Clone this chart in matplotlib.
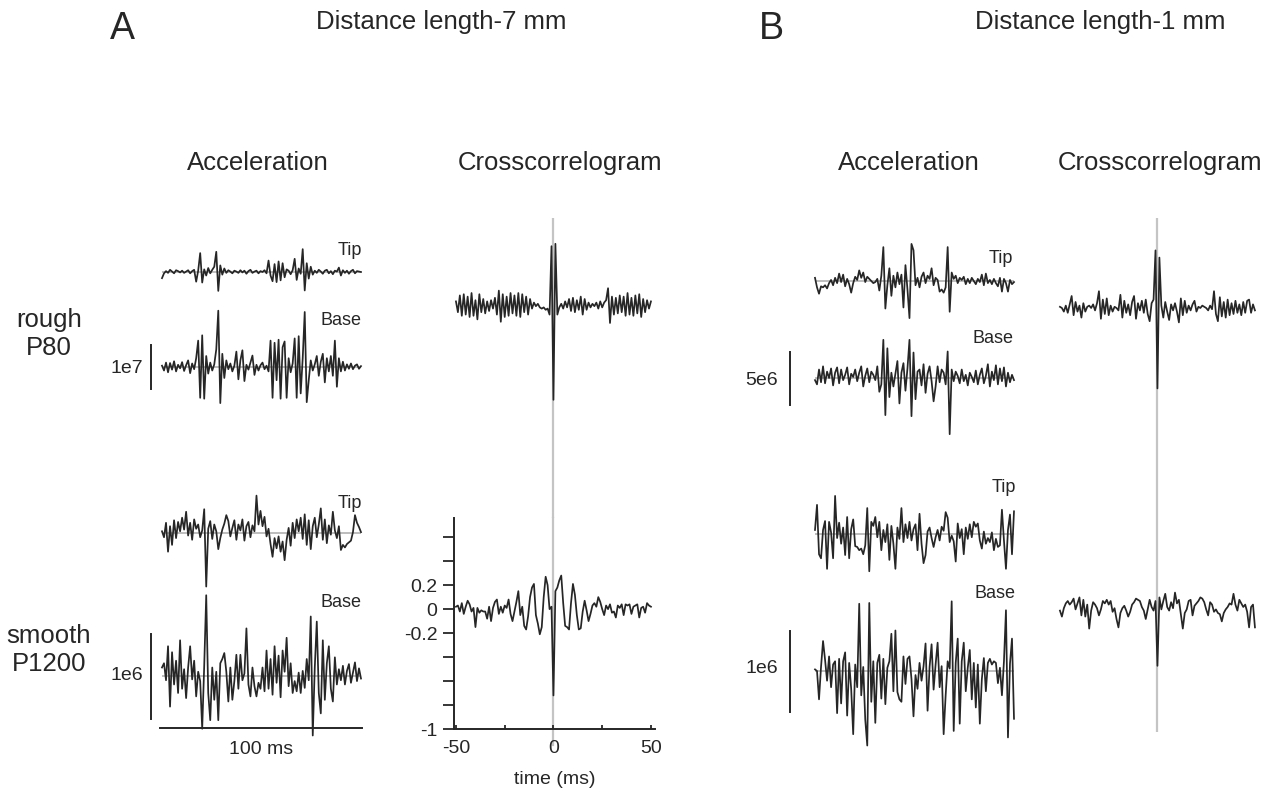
import numpy as np
import matplotlib
matplotlib.use("Agg")
import matplotlib.pyplot as plt

plt.rcParams['font.family'] = ['Liberation Sans', 'DejaVu Sans']

# ---------------------------------------------------------------- data
t_acc = np.arange(100)          # ms, 1 kHz samples, 100 ms window
lags = np.arange(-50, 51)       # ms

# Panel A (distance 7 mm) - acceleration, m/s^2
a_rough_tip = np.array([
    -1.4, -0.3, 0.2, -0.2, 0.5, 0.1, -0.3, 0.4, 0.2, -0.1,
    0.3, -0.2, 0.1, 0.4, -0.3, 0.2, 0.5, -2.2, 0.3, 4.3,
    -2.4, 0.6, -0.8, 0.9, -0.3, 0.5, 1.2, 4.6, -4.3, 1.5,
    -0.6, 0.8, -0.2, 0.4, 0.1, -0.3, 0.3, 0.1, -0.2, 0.4,
    -0.1, 0.3, -0.4, 0.2, 0.5, -0.2, 0.1, 0.3, -0.3, 0.2,
    0.0, 0.4, -0.3, 2.6, -0.8, -2.1, 1.8, -2.3, 2.4, -1.9,
    2.0, -1.2, 0.6, 0.3, -0.5, 0.4, 3.0, -1.8, 0.8, -0.4,
    5.2, -4.2, 2.0, -1.5, 1.2, -0.6, 0.3, -0.2, 0.5, 0.1,
    -0.4, 0.3, 0.5, -0.3, 0.2, -0.5, 0.3, 0.1, 1.0, -0.8,
    0.4, -0.2, 0.3, -0.4, 0.2, 0.5, -0.3, 0.2, 0.1, 0.0]) * 1e6

a_rough_base = np.array([
    0.3, -0.8, 1.0, -1.2, 0.9, -0.6, 1.3, -1.0, 0.5, -0.3,
    1.1, -0.9, 0.4, 1.5, -1.4, 0.8, -0.5, 2.0, 6.0, -7.0,
    7.2, -7.2, 2.5, -1.5, 1.0, -0.8, 0.6, 4.0, 12.8, -8.2,
    3.0, -2.5, 1.5, -0.5, 0.8, -1.0, 0.3, 3.5, -2.8, 1.5,
    3.8, -3.2, 0.5, -0.6, 1.0, 2.6, -1.8, 0.5, -0.8, 0.4,
    1.0, -0.5, 0.3, -1.0, 6.0, -7.0, 5.5, -3.0, 6.2, -7.2,
    4.5, 5.8, -7.0, 2.0, -1.2, 0.8, 6.5, -7.0, 7.0, -6.0,
    2.0, 12.5, -8.0, -3.0, 1.5, -0.8, 0.6, 2.5, -2.0, 1.2,
    3.0, -3.5, 2.0, -1.0, 2.5, -2.0, 6.0, -4.5, 2.0, -1.0,
    1.2, -0.8, 0.6, -0.4, 0.8, -0.5, 0.3, 0.6, -0.4, 0.2]) * 1e6

a_smooth_tip = np.array([
    0.2, -0.5, 1.2, -2.2, 0.8, -1.4, 1.5, -0.6, 1.3, 0.2,
    1.8, 0.4, 2.5, -0.3, 1.2, -0.8, 1.6, 0.5, 1.0, -0.5,
    0.3, 2.8, -6.3, 0.5, 1.4, -0.7, 1.0, 0.2, -1.9, -0.6,
    0.4, 1.1, 2.1, 1.4, -0.4, 0.6, 1.5, -0.8, 1.0, 0.3,
    1.6, -0.9, 0.8, 1.3, -0.5, 0.9, 0.2, 4.4, 1.0, 2.6,
    0.8, 1.9, -0.4, 0.5, -1.3, -2.8, -0.6, -1.8, -0.4, -2.2,
    -1.0, -3.2, -0.8, 0.6, -1.5, 1.2, -0.6, 1.6, 0.2, 1.8,
    -0.7, 2.2, -1.4, 1.5, -1.9, 0.8, 1.8, -0.5, 1.0, 2.9,
    -0.8, 1.6, -1.2, 0.9, -0.2, 2.5, 0.3, -0.6, 0.8, -2.0,
    -1.4, -1.7, -1.3, -1.1, -0.9, 0.1, 2.1, 1.2, 0.7, 0.1]) * 1e5

a_smooth_base = np.array([
    1.0, 1.5, -0.5, 3.5, -3.6, 2.8, -1.0, 1.8, -2.0, 4.2,
    -1.5, 0.8, -2.6, 1.0, 3.5, -0.4, 1.8, -2.4, 0.5, -0.6,
    -6.2, 1.2, 9.5, -2.0, -5.2, 1.0, -2.8, 0.5, -5.2, 1.5,
    2.0, 2.7, 0.5, -3.0, 1.0, -2.8, -0.6, 2.5, -1.5, 2.5,
    -0.5, 0.3, 5.6, -1.0, -2.4, 1.0, -1.2, -2.4, -0.8, -1.5,
    1.0, -1.8, 3.0, -1.5, 2.0, -2.2, 3.5, -0.8, 2.4, -2.5,
    3.0, 0.5, 4.5, -1.2, 1.5, -2.0, -0.6, -1.8, 0.4, -2.0,
    0.6, -1.4, 2.0, -0.5, 7.0, -7.0, 1.0, 6.4, -2.0, -4.4,
    4.2, -2.8, 1.5, 3.5, -1.5, -3.0, 2.2, -1.0, 0.8, -0.5,
    1.2, -1.0, 0.6, 1.4, -0.8, 0.4, 1.6, -0.6, 0.9, -0.3]) * 1e5

# Panel B (distance 1 mm) - acceleration, m/s^2
b_rough_tip = np.array([
    0.3, -0.6, -1.2, -0.5, -0.6, -0.4, -0.7, -0.2, 0.1, -0.4,
    0.3, -0.2, 0.7, -0.1, 0.6, -0.5, 0.2, -0.3, -1.1, -0.2,
    0.4, 0.1, 1.0, 0.3, 0.8, -0.1, 0.4, 0.2, 0.0, -0.2,
    -0.1, 0.2, -0.9, 0.5, 3.2, -2.6, -0.4, 1.2, -1.4, 0.5,
    -0.6, 0.8, -0.3, 0.6, -2.5, 1.5, -0.8, -3.5, 3.5, 2.9,
    -0.4, 0.3, -0.6, 0.4, 0.8, -0.2, 0.5, 0.2, 1.2, -0.4,
    0.3, 0.1, -1.0, -0.8, -1.1, -0.6, 3.2, -2.9, 0.8, 0.2,
    0.5, -0.2, 0.3, 0.1, 0.4, -0.3, 0.2, -0.2, 0.3, 0.0,
    -0.3, 0.2, -0.1, 0.6, -0.4, 0.7, -0.2, 0.1, -0.3, 0.2,
    -0.2, -0.5, 0.3, -1.0, 0.2, -0.2, -1.0, 0.1, -0.3, -0.1]) * 1e6

b_rough_base = np.array([
    -0.2, -0.6, 0.8, -0.4, 1.1, -0.5, 0.6, 0.0, 0.9, -0.7,
    0.5, 1.0, -0.5, 0.8, -0.2, 0.3, 1.0, -0.6, 0.4, 0.1,
    0.8, -0.3, 0.5, 1.1, -0.8, 0.2, 0.9, -0.4, 0.6, 0.3,
    -0.2, 1.1, -1.3, -0.6, 3.6, -3.5, 2.8, -1.8, 0.5, -0.8,
    0.4, 1.6, -2.4, 0.5, 1.4, -1.2, 0.9, 3.6, -3.6, 2.4,
    -2.0, 0.6, 0.8, -0.7, 1.3, -1.4, 0.4, 1.1, -0.3, -2.2,
    -0.8, 1.1, -0.4, 0.8, 0.5, -0.6, 2.5, -5.3, 0.8, -0.3,
    0.6, 0.2, -0.5, 0.8, -0.3, 0.3, -0.7, 0.5, 0.1, -0.4,
    0.7, -0.6, 0.3, 0.9, -0.5, 0.2, 1.3, -0.8, 0.6, -0.2,
    1.2, -0.6, 0.9, -0.3, 1.0, -0.8, 0.5, -0.4, 0.3, -0.2]) * 1e6

b_smooth_tip = np.array([
    0.5, 3.6, -2.5, -3.0, 0.5, 1.6, -4.3, 1.5, 0.2, -3.0,
    4.7, -0.5, 1.4, -1.2, 0.8, -2.6, 2.1, -3.0, 0.6, 1.8,
    -1.5, -1.6, -2.0, -1.8, -2.5, -1.4, 3.2, -4.6, 1.5, 1.0,
    2.1, -0.4, 1.5, -2.0, 0.5, -1.0, 1.2, -3.2, 1.0, -1.2,
    -4.3, 0.8, -0.6, 3.2, -1.0, 1.2, -0.5, 1.5, -0.8, 0.6,
    1.2, -2.0, 2.5, -1.2, -3.6, -2.6, 0.3, 0.8, -0.5, -1.6,
    -0.4, 0.5, -0.8, 0.9, 0.4, 2.7, 2.0, -1.0, -0.2, -0.9,
    -3.4, 1.3, -0.5, 0.6, -2.5, 0.8, -0.6, 1.2, -0.4, 1.5,
    0.9, 1.3, -0.8, -1.8, 0.3, -1.2, -0.5, -1.0, 0.2, -2.0,
    -0.6, -1.6, -1.4, 3.0, -0.8, -4.3, 0.5, 2.4, -2.5, 2.8]) * 1e5

b_smooth_base = np.array([
    0.2, 0.0, -3.5, 0.5, 3.7, 1.4, -1.2, 1.8, -2.0, 0.8,
    1.2, -5.2, 1.5, -4.0, 1.2, 2.3, -5.5, 1.0, -2.2, -7.8,
    0.8, -2.0, 8.3, -3.0, 0.5, -6.0, -9.2, 8.4, -3.8, 1.2,
    -6.4, 1.0, 2.0, -3.4, 1.5, -4.1, 0.4, 1.2, 4.6, -2.5,
    5.0, -2.6, -3.5, -3.8, 1.8, -1.6, 1.5, 1.8, -1.0, -5.6,
    -0.5, -2.2, 1.0, -1.2, 0.6, 3.4, -4.9, 0.5, 3.3, -2.3,
    0.8, 3.5, -2.0, 0.6, -7.8, -3.0, 1.2, 0.3, 8.6, -7.4,
    1.0, 4.0, -6.5, 1.2, 3.5, -2.5, 0.4, 2.6, -3.5, 1.0,
    -4.5, 0.8, -6.5, -1.0, 1.6, -2.5, 1.0, 1.5, 0.8, 1.2,
    1.0, -1.5, 0.4, -3.0, 1.2, 7.5, -8.2, 0.9, 4.0, -5.9]) * 1e5

# Tip/base cross-correlation coefficients, lag -50..50 ms
a_rough_xcorr = np.array([
    0.03, -0.06, 0.08, -0.09, 0.09, -0.08, 0.07, -0.10, 0.10, -0.09,
    0.04, -0.12, 0.09, -0.06, 0.05, -0.07, 0.03, -0.05, 0.04, -0.03,
    0.06, -0.08, 0.12, -0.14, 0.09, -0.10, 0.07, -0.09, 0.10, -0.07,
    0.08, -0.09, 0.10, -0.10, 0.09, -0.06, 0.07, -0.08, 0.05, -0.03,
    0.02, -0.01, 0.01, -0.02, -0.03, -0.02, -0.04, -0.03, -0.08, 0.49,
    -0.79,
    0.51, -0.08, -0.02, 0.01, -0.03, 0.03, -0.02, 0.05, -0.05, 0.06,
    -0.06, 0.04, -0.04, 0.07, -0.08, 0.05, -0.04, 0.02, -0.02, 0.01,
    -0.01, 0.02, -0.03, 0.03, -0.02, 0.02, 0.04, 0.14, -0.15, 0.07,
    -0.08, 0.06, -0.07, 0.08, -0.06, 0.07, -0.09, 0.10, -0.08, 0.06,
    -0.09, 0.08, -0.07, 0.09, -0.10, 0.05, -0.06, 0.04, -0.03, 0.03])

a_smooth_xcorr = np.array([
    0.02, 0.03, -0.02, 0.05, -0.04, 0.02, 0.07, 0.04, -0.02, 0.01,
    -0.15, 0.01, -0.03, -0.01, -0.02, -0.02, -0.08, 0.02, -0.10, 0.01,
    0.06, 0.08, -0.04, 0.02, -0.03, 0.03, 0.01, 0.08, -0.04, -0.10,
    -0.02, 0.06, 0.15, -0.05, 0.02, -0.14, -0.17, -0.06, 0.10, 0.18,
    0.21, -0.05, -0.12, -0.21, -0.15, 0.10, 0.27, 0.20, 0.00, 0.02,
    -0.72,
    0.15, 0.18, 0.24, 0.28, 0.05, -0.14, -0.15, -0.17, 0.05, 0.21,
    0.12, -0.05, -0.17, -0.16, -0.02, 0.07, -0.01, -0.10, -0.04, 0.03,
    0.05, 0.02, 0.10, 0.06, 0.00, -0.05, 0.03, 0.00, 0.04, -0.03,
    -0.02, -0.07, 0.03, 0.01, 0.04, -0.05, 0.04, 0.03, 0.04, -0.04,
    0.02, 0.03, 0.04, -0.07, 0.01, 0.02, -0.03, 0.05, 0.03, 0.02])

b_rough_xcorr = np.array([
    0.01, 0.00, -0.03, 0.02, -0.04, 0.03, 0.10, -0.06, 0.05, -0.03,
    0.02, -0.08, 0.04, -0.03, 0.01, 0.02, 0.00, 0.03, -0.02, 0.04,
    0.14, -0.09, 0.07, -0.05, 0.08, -0.06, 0.02, -0.03, 0.01, 0.00,
    -0.02, 0.11, -0.08, 0.06, -0.04, 0.03, -0.06, 0.05, 0.10, -0.09,
    0.04, -0.02, 0.06, -0.04, 0.07, -0.05, -0.11, 0.04, 0.07, 0.48,
    -0.67,
    0.42, 0.02, -0.08, 0.05, -0.03, -0.10, 0.03, -0.02, 0.04, -0.03,
    -0.12, 0.08, -0.06, 0.06, -0.04, 0.02, -0.02, 0.03, 0.06, -0.03,
    0.01, 0.00, 0.02, 0.01, 0.00, -0.02, 0.02, -0.01, 0.14, -0.05,
    -0.11, 0.09, -0.07, 0.05, -0.08, 0.07, -0.06, 0.04, -0.05, 0.06,
    -0.04, 0.03, -0.06, 0.05, -0.04, 0.06, 0.07, -0.04, 0.03, -0.02])

b_smooth_xcorr = np.array([
    -0.03, -0.08, -0.01, 0.03, 0.05, 0.02, 0.04, 0.07, -0.02, 0.03,
    0.08, -0.07, 0.06, -0.08, 0.02, -0.18, -0.03, 0.04, 0.02, -0.01,
    -0.07, -0.02, 0.05, 0.03, 0.06, 0.02, 0.05, -0.04, -0.01, -0.10,
    -0.17, -0.05, -0.01, 0.01, -0.03, -0.08, -0.04, 0.02, 0.04, 0.07,
    0.06, 0.05, 0.00, -0.03, -0.10, -0.02, 0.06, 0.00, -0.03, 0.05,
    -0.49,
    0.08, -0.02, 0.05, 0.11, 0.00, -0.03, 0.04, -0.01, 0.12, 0.03,
    0.06, -0.06, -0.18, -0.05, -0.02, 0.05, 0.06, -0.07, 0.01, 0.03,
    0.05, 0.08, 0.07, 0.04, -0.02, -0.07, 0.04, 0.02, -0.04, -0.02,
    -0.05, -0.06, -0.12, -0.05, -0.02, 0.00, 0.03, 0.02, 0.11, 0.02,
    -0.03, 0.06, 0.03, 0.00, 0.02, -0.04, -0.17, 0.00, 0.02, -0.17])

# vertical scale bars (m/s^2)
a_rough_scale, a_smooth_scale = 1e7, 1e6
b_rough_scale, b_smooth_scale = 5e6, 1e6

xcorr_yticks = [-1, -0.8, -0.6, -0.4, -0.2, 0, 0.2, 0.4, 0.6]
xcorr_ylabels = ['-1', '', '', '', '-0.2', '0', '0.2', '', '']
xcorr_xticks = [-50, -25, 0, 25, 50]
xcorr_xlabels = ['-50', '', '0', '', '50']

# ---------------------------------------------------------------- layout
W, H = 1274, 801
fig = plt.figure(figsize=(W / 100, H / 100), dpi=100)

INK = '#262626'
ZERO = '#ababab'
LAG0 = '#c4c4c4'
LW = 1.25


def px_axes(left, top, width, height):
    ax = fig.add_axes([left / W, 1 - (top + height) / H, width / W, height / H])
    ax.patch.set_visible(False)
    return ax


def px_text(x, y, s, size, ha='center', va='baseline'):
    fig.text(x / W, 1 - y / H, s, fontsize=size, ha=ha, va=va, color=INK)


def accel_trace(left, zero_y, px_per_unit, values, half=75, width=199):
    ax = px_axes(left, zero_y - half, width, 2 * half)
    ax.set_xlim(t_acc[0], t_acc[-1])
    ax.set_ylim(-half / px_per_unit, half / px_per_unit)
    ax.axis('off')
    ax.axhline(0, color=ZERO, lw=1.1, zorder=1)
    ax.plot(t_acc, values, color=INK, lw=LW, zorder=2, clip_on=False)
    return ax


def scale_bar(ax, gap_px, value, label, label_x, label_y):
    px_per_ms = ax.bbox.width / (t_acc[-1] - t_acc[0])
    xb = t_acc[0] - gap_px / px_per_ms
    ax.plot([xb, xb], [-value / 2, value / 2], color=INK, lw=1.4, clip_on=False)
    px_text(label_x, label_y, label, 14, ha='right')


PX_R = 120.0    # px per unit correlation
PX_MS = 1.95    # px per ms lag


def xcorr_axes(left, top, bottom, zero_y, values):
    ax = px_axes(left, top, 103 * PX_MS, bottom - top)
    ax.set_xlim(-51, 52)
    ax.set_ylim(-(bottom - zero_y) / PX_R, (zero_y - top) / PX_R)
    ax.axis('off')
    ax.axvline(0, color=LAG0, lw=1.6, zorder=1)
    ax.plot(lags, values, color=INK, lw=LW, zorder=2, clip_on=False)
    return ax


# ---- headings
px_text(122, 39, 'A', 27)
px_text(441, 29, 'Distance length-7 mm', 18.5)
px_text(771, 39, 'B', 27)
px_text(1100, 29, 'Distance length-1 mm', 18.5)
for x, s in [(258, 'Acceleration'), (560, 'Crosscorrelogram'),
             (909, 'Acceleration'), (1160, 'Crosscorrelogram')]:
    px_text(x, 170, s, 18.5)

px_text(49, 327, 'rough', 18.5)
px_text(49, 355, 'P80', 18.5)
px_text(49, 643, 'smooth', 18.5)
px_text(49, 671, 'P1200', 18.5)

# ---- panel A acceleration
accel_trace(162, 272, 44 / a_rough_scale, a_rough_tip)
ax = accel_trace(162, 367, 44 / a_rough_scale, a_rough_base)
scale_bar(ax, 11, a_rough_scale, '1e7', 143, 373)
px_text(362, 255, 'Tip', 13, ha='right')
px_text(362, 325, 'Base', 13, ha='right')

accel_trace(162, 533, 85 / a_smooth_scale, a_smooth_tip)
ax = accel_trace(162, 676, 85 / a_smooth_scale, a_smooth_base)
scale_bar(ax, 11, a_smooth_scale, '1e6', 143, 680)
px_text(362, 508, 'Tip', 13, ha='right')
px_text(362, 607, 'Base', 13, ha='right')

# time scale bar
tb = px_axes(160, 700, 202, 28)
tb.set_xlim(t_acc[0], t_acc[-1])
for side in ['left', 'right', 'top']:
    tb.spines[side].set_visible(False)
tb.spines['bottom'].set_color(INK)
tb.spines['bottom'].set_linewidth(1.4)
tb.set_xticks([])
tb.set_yticks([])
tb.set_xlabel('100 ms', fontsize=14, color=INK, labelpad=9)

# ---- panel A cross-correlograms
xcorr_axes(454, 218, 518, 305, a_rough_xcorr)

cx = px_axes(454, 518, 103 * PX_MS, 211)
cx.set_xlim(-51, 52)
cx.set_ylim(-1, 0.76)
cx.axvline(0, ymin=-16 / 211, ymax=1, color=LAG0, lw=1.6, zorder=1, clip_on=False)
cx.plot(lags, a_smooth_xcorr, color=INK, lw=LW, zorder=2, clip_on=False)
for side in ['right', 'top']:
    cx.spines[side].set_visible(False)
for side in ['left', 'bottom']:
    cx.spines[side].set_color(INK)
    cx.spines[side].set_linewidth(1.4)
cx.set_yticks(xcorr_yticks)
cx.set_yticklabels(xcorr_ylabels)
cx.set_xticks(xcorr_xticks)
cx.set_xticklabels(xcorr_xlabels)
cx.tick_params(axis='y', direction='out', length=8, width=1.3, pad=4,
               labelsize=14, colors=INK)
cx.tick_params(axis='x', direction='in', length=3, width=1.3, pad=8,
               labelsize=14, colors=INK)
cx.set_xlabel('time (ms)', fontsize=14, color=INK, labelpad=10)

# ---- panel B acceleration
accel_trace(815, 281, 53 / b_rough_scale, b_rough_tip)
ax = accel_trace(815, 378, 53 / b_rough_scale, b_rough_base)
scale_bar(ax, 25, b_rough_scale, '5e6', 778, 385)
px_text(1013, 263, 'Tip', 13, ha='right')
px_text(1013, 343, 'Base', 13, ha='right')

accel_trace(815, 534, 81 / b_smooth_scale, b_smooth_tip)
ax = accel_trace(815, 671, 81 / b_smooth_scale, b_smooth_base)
scale_bar(ax, 25, b_smooth_scale, '1e6', 778, 673)
px_text(1016, 492, 'Tip', 13, ha='right')
px_text(1016, 598, 'Base', 13, ha='right')

# ---- panel B cross-correlograms
xcorr_axes(1058, 218, 458, 308, b_rough_xcorr)
xcorr_axes(1058, 458, 732, 607, b_smooth_xcorr)

fig.savefig('out.png', dpi=100)
